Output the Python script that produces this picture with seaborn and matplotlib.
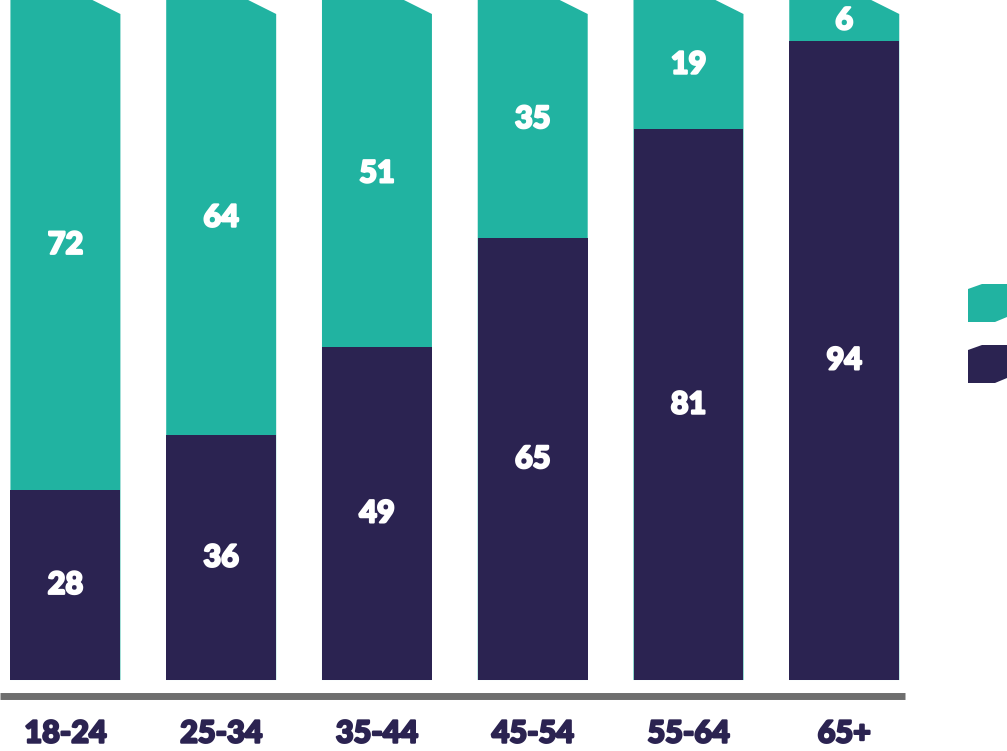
import matplotlib
matplotlib.use("Agg")
import matplotlib.pyplot as plt
import matplotlib.patheffects as pe
import seaborn as sns
import pandas as pd
from matplotlib.patches import Polygon

categories = ["18-24", "25-34", "35-44", "45-54", "55-64", "65+"]
navy_values = [28, 36, 49, 65, 81, 94]
teal_values = [72, 64, 51, 35, 19, 6]

TEAL = "#21b3a1"
NAVY = "#2b2351"

sns.set_theme(style="white")
plt.rcParams["font.family"] = ["Lato", "DejaVu Sans"]

df = pd.DataFrame({"cat": categories, "navy": navy_values, "teal": teal_values})
df["total"] = df["navy"] + df["teal"]

W, H = 1007, 751
fig = plt.figure(figsize=(W / 100, H / 100), dpi=100)
ax = fig.add_axes([0, (H - 696) / H, 905 / W, 696 / H])

sns.barplot(data=df, x="cat", y="total", color=TEAL, width=0.706, ax=ax,
            saturation=1, linewidth=0)
n = len(categories)
# clip top-right corner of the teal bars
dx = 28 / 155.8
dy = 14 / 6.8
for p in list(ax.patches[:n]):
    x0, w, h = p.get_x(), p.get_width(), p.get_height()
    poly = Polygon([(x0, 0), (x0, h), (x0 + w - dx, h), (x0 + w, h - dy), (x0 + w, 0)],
                   closed=True, facecolor=TEAL, edgecolor="none", zorder=0.5)
    p.remove()
    ax.add_patch(poly)

sns.barplot(data=df, x="cat", y="navy", color=NAVY, width=0.706, ax=ax,
            saturation=1, linewidth=0, zorder=1)

ax.set_xlim(-0.42, 5.39)
ax.set_ylim(-2.35, 100)

heavy_white = [pe.withStroke(linewidth=1.6, foreground="white")]
heavy_navy = [pe.withStroke(linewidth=1.6, foreground=NAVY)]

# value labels
for i, (nv, tv) in enumerate(zip(navy_values, teal_values)):
    ax.text(i, nv / 2, f"{nv}", ha="center", va="center", color="white",
            fontsize=22, fontweight="black", path_effects=heavy_white, zorder=3)
    ax.text(i, nv + tv / 2, f"{tv}", ha="center", va="center", color="white",
            fontsize=22, fontweight="black", path_effects=heavy_white, zorder=3)

for s in ["top", "right", "left"]:
    ax.spines[s].set_visible(False)
ax.spines["bottom"].set_color("#6e6e6e")
ax.spines["bottom"].set_linewidth(5)
ax.spines["bottom"].set_capstyle("butt")
ax.set_yticks([])
ax.set_xlabel("")
ax.set_ylabel("")
ax.tick_params(axis="x", length=0, pad=17)
for lbl in ax.get_xticklabels():
    lbl.set_fontsize(22)
    lbl.set_fontweight("black")
    lbl.set_color(NAVY)
    lbl.set_path_effects(heavy_navy)

# legend swatches (labels lie outside the visible area)
def swatch(y0, color):
    pts = [(968, y0 + 5), (982, y0), (1007, y0), (1007, y0 + 33), (995, y0 + 38), (968, y0 + 38)]
    fpts = [(x / W, 1 - y / H) for x, y in pts]
    fig.patches.append(Polygon(fpts, closed=True, transform=fig.transFigure,
                               facecolor=color, edgecolor="none", figure=fig))

swatch(284, TEAL)
swatch(345, NAVY)

fig.savefig("out.png", dpi=100)
